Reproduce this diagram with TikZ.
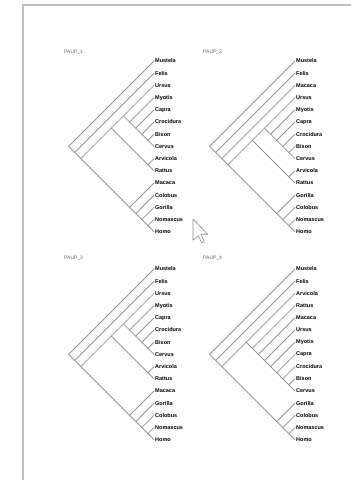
\documentclass[tikz,border=0pt]{standalone}
\usepackage{fontspec}
\setmainfont{Liberation Sans}
\newcommand\drawtree[6]{%
  \foreach \i/\j in {#4} {\coordinate (#1-\i-\j) at ({#2-(\j-\i)*6.1},{#3+((\i+\j)/2-1)*12.2});}
  \foreach \k/\nm in {#6} {\coordinate (#1-\k-\k) at (#2,{#3+(\k-1)*12.2});
    \node[taxon] (#1-t\k) at (#1-\k-\k) {\nm};}
  \foreach \i/\j/\a/\b in {#5} {\draw[br] (#1-\i-\j) -- (#1-\a-\b);}
}
\begin{document}
\begin{tikzpicture}[x=1pt,y=-1pt,
  br/.style={draw=black!42,line width=0.8pt,line cap=round},
  taxon/.style={anchor=west,inner sep=1pt,font=\fontsize{5.5}{6}\selectfont\bfseries},
  ttl/.style={anchor=west,inner sep=0pt,font=\fontsize{5}{6}\selectfont,text=black!60},
  pageframe/.style={draw=black!25,line width=2pt}]
\useasboundingbox (0,0) rectangle (351,480);
\fill[white] (0,0) rectangle (351,480);
\draw[pageframe] (23,481) -- (23,5) -- (352,5);

\node[ttl] (A-title) at (64,52) {PAUP\_1};
\node[ttl] (B-title) at (203,52) {PAUP\_2};
\node[ttl] (C-title) at (64,258) {PAUP\_3};
\node[ttl] (D-title) at (203,258) {PAUP\_4};

% tree 1
\drawtree{A}{154}{61}
{1/15,2/15,3/15,3/10,3/8,4/8,5/8,6/8,7/8,9/10,11/15,12/15,13/15,14/15}
{1/15/1/1,1/15/2/15,2/15/2/2,2/15/3/15,3/15/3/10,3/15/11/15,3/10/3/8,3/10/9/10,3/8/3/3,3/8/4/8,4/8/4/4,4/8/5/8,5/8/5/5,5/8/6/8,6/8/6/6,6/8/7/8,7/8/7/7,7/8/8/8,9/10/9/9,9/10/10/10,11/15/11/11,11/15/12/15,12/15/12/12,12/15/13/15,13/15/13/13,13/15/14/15,14/15/14/14,14/15/15/15}
{1/Mustela,2/Felis,3/Ursus,4/Myotis,5/Capra,6/Crocidura,7/Bison,8/Cervus,9/Arvicola,10/Rattus,11/Macaca,12/Colobus,13/Gorilla,14/Nomascus,15/Homo}

% tree 2
\drawtree{B}{295}{61}
{1/15,2/15,3/15,4/15,4/11,4/9,5/9,6/9,7/9,8/9,10/11,12/15,13/15,14/15}
{1/15/1/1,1/15/2/15,2/15/2/2,2/15/3/15,3/15/3/3,3/15/4/15,4/15/4/11,4/15/12/15,4/11/4/9,4/11/10/11,4/9/4/4,4/9/5/9,5/9/5/5,5/9/6/9,6/9/6/6,6/9/7/9,7/9/7/7,7/9/8/9,8/9/8/8,8/9/9/9,10/11/10/10,10/11/11/11,12/15/12/12,12/15/13/15,13/15/13/13,13/15/14/15,14/15/14/14,14/15/15/15}
{1/Mustela,2/Felis,3/Macaca,4/Ursus,5/Myotis,6/Capra,7/Crocidura,8/Bison,9/Cervus,10/Arvicola,11/Rattus,12/Gorilla,13/Colobus,14/Nomascus,15/Homo}

% tree 3
\drawtree{C}{154}{269}
{1/15,2/15,3/15,3/10,3/8,4/8,5/8,6/8,7/8,9/10,11/15,12/15,13/15,14/15}
{1/15/1/1,1/15/2/15,2/15/2/2,2/15/3/15,3/15/3/10,3/15/11/15,3/10/3/8,3/10/9/10,3/8/3/3,3/8/4/8,4/8/4/4,4/8/5/8,5/8/5/5,5/8/6/8,6/8/6/6,6/8/7/8,7/8/7/7,7/8/8/8,9/10/9/9,9/10/10/10,11/15/11/11,11/15/12/15,12/15/12/12,12/15/13/15,13/15/13/13,13/15/14/15,14/15/14/14,14/15/15/15}
{1/Mustela,2/Felis,3/Ursus,4/Myotis,5/Capra,6/Crocidura,7/Bison,8/Cervus,9/Arvicola,10/Rattus,11/Macaca,12/Gorilla,13/Colobus,14/Nomascus,15/Homo}

% tree 4
\drawtree{D}{295}{269}
{1/15,2/15,3/15,3/11,4/11,5/11,6/11,7/11,8/11,9/11,10/11,12/15,13/15,14/15}
{1/15/1/1,1/15/2/15,2/15/2/2,2/15/3/15,3/15/3/11,3/15/12/15,3/11/3/3,3/11/4/11,4/11/4/4,4/11/5/11,5/11/5/5,5/11/6/11,6/11/6/6,6/11/7/11,7/11/7/7,7/11/8/11,8/11/8/8,8/11/9/11,9/11/9/9,9/11/10/11,10/11/10/10,10/11/11/11,12/15/12/12,12/15/13/15,13/15/13/13,13/15/14/15,14/15/14/14,14/15/15/15}
{1/Mustela,2/Felis,3/Arvicola,4/Rattus,5/Macaca,6/Ursus,7/Myotis,8/Capra,9/Crocidura,10/Bison,11/Cervus,12/Gorilla,13/Colobus,14/Nomascus,15/Homo}

% mouse pointer
\draw[draw=black!45,fill=white,line width=0.6pt,line join=round,shift={(193,219)},scale=1.33]
  (0,0) -- (0,16) -- (4,12.5) -- (6.5,18) -- (8.5,17) -- (6,11.5) -- (11,11.5) -- cycle;
\end{tikzpicture}
\end{document}
